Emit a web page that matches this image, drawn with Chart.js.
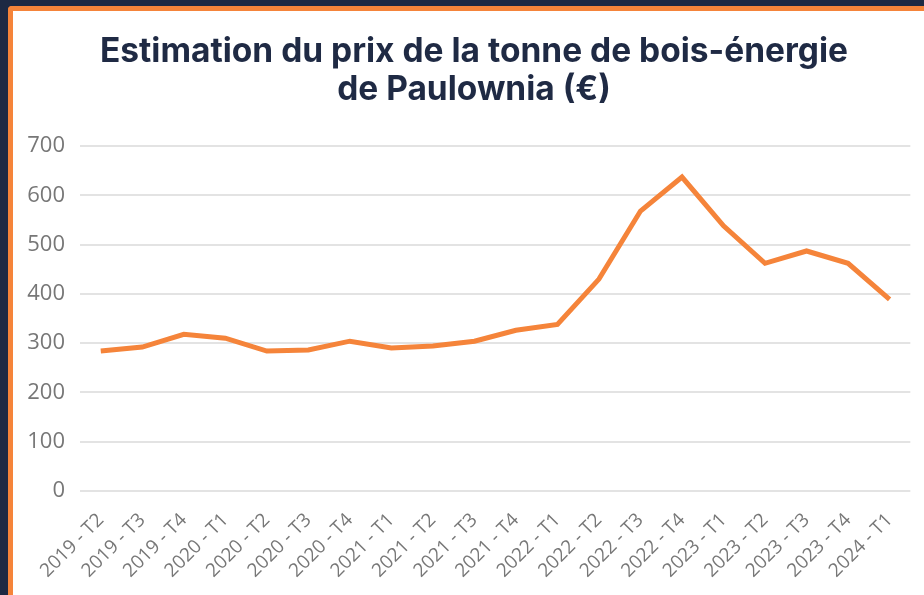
<!DOCTYPE html>
<html>
<head>
<meta charset="utf-8">
<script src="https://cdn.jsdelivr.net/npm/chart.js@4"></script>
<style>
  html, body { margin: 0; padding: 0; width: 924px; height: 595px; overflow: hidden; background: #1d2943; }
  #card { position: absolute; left: 8px; top: 6px; width: 911px; height: 584px; background: #ffffff;
          border-left: 5px solid #f5843a; border-top: 5px solid #f5843a; border-top-left-radius: 4px; }
  #wrap { position: absolute; left: 0; top: 0; width: 911px; height: 584px; }
  #title { position: absolute; left: 0; top: 31px; width: 948px; text-align: center;
           font-family: Inter, sans-serif; font-weight: 700; font-size: 33.5px; line-height: 38px;
           color: #1f2a44; white-space: nowrap; }
</style>
</head>
<body>
<div id="card"><div id="wrap"><canvas id="c" width="911" height="584"></canvas></div></div>
<div id="title"></div>
<script>
const categories = ["2019 - T2","2019 - T3","2019 - T4","2020 - T1","2020 - T2","2020 - T3","2020 - T4",
  "2021 - T1","2021 - T2","2021 - T3","2021 - T4","2022 - T1","2022 - T2","2022 - T3","2022 - T4",
  "2023 - T1","2023 - T2","2023 - T3","2023 - T4","2024 - T1"];
const prices = [284, 292, 318, 310, 284, 286, 304, 290, 294, 304, 326, 338, 430, 568, 637, 538, 462, 487, 462, 389];
const yTicks = [0, 100, 200, 300, 400, 500, 600, 700];
const titleLines = ["Estimation du prix de la tonne de bois-énergie", "de Paulownia (€)"];

const t = document.getElementById('title');
titleLines.forEach((line, i) => {
  if (i) t.appendChild(document.createElement('br'));
  t.appendChild(document.createTextNode(line));
});

new Chart(document.getElementById('c'), {
  type: 'line',
  data: {
    labels: categories,
    datasets: [{
      data: prices,
      borderColor: '#f5843a',
      backgroundColor: '#f5843a',
      borderWidth: 5,
      pointRadius: 0,
      tension: 0,
      fill: false
    }]
  },
  options: {
    responsive: false,
    animation: false,
    devicePixelRatio: 1,
    layout: { padding: { left: 0, right: 12, top: 135, bottom: 0 } },
    plugins: {
      legend: { display: false },
      tooltip: { enabled: false },
      title: { display: false }
    },
    scales: {
      x: {
        offset: true,
        grid: { display: false, drawTicks: false },
        border: { display: false },
        ticks: {
          color: '#777777',
          font: { family: 'Open Sans', size: 19 },
          maxRotation: 45, minRotation: 45,
          autoSkip: false,
          padding: 18
        },
        afterFit: s => { s.height = 104; }
      },
      y: {
        min: 0, max: 700,
        grid: { color: '#e3e3e3', lineWidth: 2, drawTicks: false },
        border: { display: false },
        afterBuildTicks: s => { s.ticks = yTicks.map(v => ({ value: v })); },
        ticks: {
          color: '#777777',
          font: { family: 'Open Sans', size: 22 },
          padding: 15
        },
        afterFit: s => { s.width = 67; }
      }
    }
  }
});
</script>
</body>
</html>
